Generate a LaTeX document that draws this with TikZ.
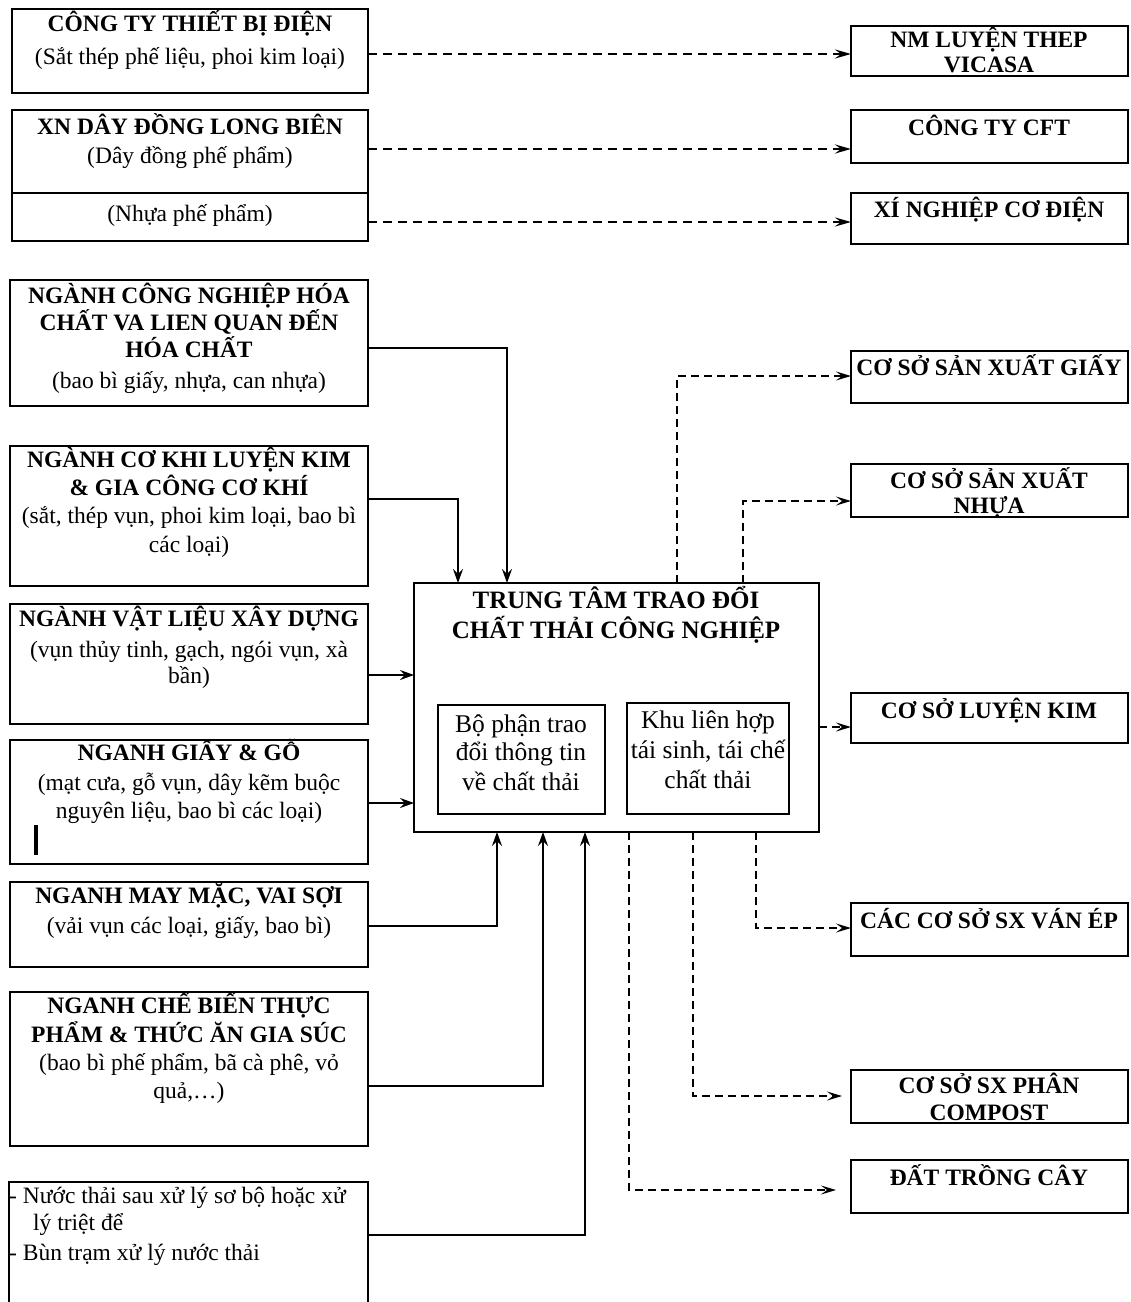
\documentclass[tikz,border=0pt]{standalone}
\usepackage{fontspec}
\setmainfont{Liberation Serif}
\usetikzlibrary{arrows.meta}
\newcommand\mybox[6][]{\node[boxst,#1,minimum width={#5-#3},minimum height={#6-#4}] (#2) at ({(#3+#5)/2},{(#4+#6)/2}) {};}
\tikzset{
  boxst/.style={draw=black, line width=1.6pt, rectangle, inner sep=0pt, outer sep=0pt},
  tb/.style={font=\bfseries\fontsize{23.5}{28}\selectfont, anchor=base, inner sep=0pt},
  tr/.style={font=\fontsize{23.5}{28}\selectfont, anchor=base, inner sep=0pt},
  tbc/.style={font=\bfseries\fontsize{25}{30}\selectfont, anchor=base, inner sep=0pt},
  tin/.style={font=\fontsize{25.5}{30}\selectfont, anchor=base, inner sep=0pt},
  solidarr/.style={line width=1.6pt, -{Stealth[length=14pt,width=10pt,inset=5pt]}},
  thickdash/.style={line width=2.4pt, dash pattern=on 9pt off 6pt, -{Stealth[length=16pt,width=9pt,inset=6pt]}},
  thindash/.style={line width=1.6pt, dash pattern=on 8pt off 5pt, -{Stealth[length=15pt,width=9pt,inset=6pt]}}
}
\begin{document}
\begin{tikzpicture}[x=1pt,y=-1pt]
\useasboundingbox[fill=white] (0,0) rectangle (1131,1302);

% ---------- left boxes ----------
\mybox{b1}{12}{9}{368}{93}
\node[tb] (t1a) at (190,31) {CÔNG TY THIẾT BỊ ĐIỆN};
\node[tr] (t1b) at (190,64) {(Sắt thép phế liệu, phoi kim loại)};

\mybox{b2a}{12}{110}{368}{193}
\mybox{b2b}{12}{193}{368}{241}
\node[tb] (t2a) at (190,134) {XN DÂY ĐỒNG LONG BIÊN};
\node[tr] (t2b) at (190,163) {(Dây đồng phế phẩm)};
\node[tr] (t2c) at (190,221) {(Nhựa phế phẩm)};

\mybox{b3}{10}{280}{368}{406}
\node[tb] (t3a) at (189,303) {NGÀNH CÔNG NGHIỆP HÓA};
\node[tb] (t3b) at (189,330) {CHẤT VA LIEN QUAN ĐẾN};
\node[tb] (t3c) at (189,357) {HÓA CHẤT};
\node[tr] (t3d) at (189,388) {(bao bì giấy, nhựa, can nhựa)};

\mybox{b4}{10}{446}{368}{586}
\node[tb] (t4a) at (189,467) {NGÀNH CƠ KHI LUYỆN KIM};
\node[tb] (t4b) at (189,495) {\& GIA CÔNG CƠ KHÍ};
\node[tr] (t4c) at (189,523) {(sắt, thép vụn, phoi kim loại, bao bì};
\node[tr] (t4d) at (189,552) {các loại)};

\mybox{b5}{10}{604}{368}{724}
\node[tb] (t5a) at (189,626) {NGÀNH VẬT LIỆU XÂY DỰNG};
\node[tr] (t5b) at (189,657) {(vụn thủy tinh, gạch, ngói vụn, xà};
\node[tr] (t5c) at (189,683) {bần)};

\mybox{b6}{10}{740}{368}{864}
\node[tb] (t6a) at (189,760) {NGANH GIẤY \& GỖ};
\node[tr] (t6b) at (189,790) {(mạt cưa, gỗ vụn, dây kẽm buộc};
\node[tr] (t6c) at (189,818) {nguyên liệu, bao bì các loại)};
\draw[line width=3.5pt] (36,825) -- (36,855);

\mybox{b7}{10}{882}{368}{967}
\node[tb] (t7a) at (189,903) {NGANH MAY MẶC, VAI SỢI};
\node[tr] (t7b) at (189,933) {(vải vụn các loại, giấy, bao bì)};

\mybox{b8}{10}{992}{368}{1146}
\node[tb] (t8a) at (189,1013) {NGANH CHẾ BIẾN THỰC};
\node[tb] (t8b) at (189,1042) {PHẨM \& THỨC ĂN GIA SÚC};
\node[tr] (t8c) at (189,1070) {(bao bì phế phẩm, bã cà phê, vỏ};
\node[tr] (t8d) at (189,1098) {quả,…)};

\mybox{b9}{9}{1182}{368}{1330}
\node[tr,anchor=base west] (t9a) at (9,1203) {- Nước thải sau xử lý sơ bộ hoặc xử};
\node[tr,anchor=base west] (t9b) at (33,1230) {lý triệt để};
\node[tr,anchor=base west] (t9c) at (9,1260) {- Bùn trạm xử lý nước thải};

% ---------- centre ----------
\mybox{c}{414}{583}{819}{832}
\node[tbc] (tca) at (616,608) {TRUNG TÂM TRAO ĐỔI};
\node[tbc] (tcb) at (616,638) {CHẤT THẢI CÔNG NGHIỆP};
\mybox{i1}{438}{705}{605}{814}
\node[tin] (ti1a) at (521,732) {Bộ phận trao};
\node[tin] (ti1b) at (521,760) {đổi thông tin};
\node[tin] (ti1c) at (521,790) {về chất thải};
\mybox{i2}{627}{703}{789}{814}
\node[tin] (ti2a) at (708,728) {Khu liên hợp};
\node[tin] (ti2b) at (708,758) {tái sinh, tái chế};
\node[tin] (ti2c) at (708,788) {chất thải};

% ---------- right boxes ----------
\mybox{r1}{851}{26}{1128}{76}
\node[tb] (tr1a) at (989,47) {NM LUYỆN THEP};
\node[tb] (tr1b) at (989,72) {VICASA};
\mybox{r2}{851}{110}{1128}{163}
\node[tb] (tr2) at (989,135) {CÔNG TY CFT};
\mybox{r3}{851}{193}{1128}{244}
\node[tb] (tr3) at (989,217) {XÍ NGHIỆP CƠ ĐIỆN};
\mybox{r4}{851}{351}{1128}{403}
\node[tb] (tr4) at (989,375) {CƠ SỞ SẢN XUẤT GIẤY};
\mybox{r5}{851}{464}{1128}{517}
\node[tb] (tr5a) at (989,488) {CƠ SỞ SẢN XUẤT};
\node[tb] (tr5b) at (989,513) {NHỰA};
\mybox{r6}{851}{693}{1128}{743}
\node[tb] (tr6) at (989,718) {CƠ SỞ LUYỆN KIM};
\mybox{r7}{851}{903}{1128}{956}
\node[tb] (tr7) at (989,928) {CÁC CƠ SỞ SX VÁN ÉP};
\mybox{r8}{851}{1070}{1128}{1123}
\node[tb] (tr8a) at (989,1093) {CƠ SỞ SX PHÂN};
\node[tb] (tr8b) at (989,1120) {COMPOST};
\mybox{r9}{851}{1160}{1128}{1213}
\node[tb] (tr9) at (989,1185) {ĐẤT TRỒNG CÂY};

\coordinate (e8) at (842,1096);
\coordinate (e9) at (836,1190);

% ---------- connectors ----------
\draw[thickdash] (b1.east |- 0,54) -- (r1.west |- 0,54);
\draw[thickdash] (b2a.east |- 0,149) -- (r2.west |- 0,149);
\draw[thickdash] (b2b.east |- 0,222) -- (r3.west |- 0,222);

\draw[solidarr] (b3.east |- 0,348) -- (507,348) -- (c.north -| 507,0);
\draw[solidarr] (b4.east |- 0,499) -- (458,499) -- (c.north -| 458,0);
\draw[solidarr] (b5.east |- 0,675) -- (c.west |- 0,675);
\draw[solidarr] (b6.east |- 0,803) -- (c.west |- 0,803);
\draw[solidarr] (b7.east |- 0,926) -- (497,926) -- (c.south -| 497,0);
\draw[solidarr] (b8.east |- 0,1086) -- (543,1086) -- (c.south -| 543,0);
\draw[solidarr] (b9.east |- 0,1235) -- (585,1235) -- (c.south -| 585,0);

\draw[thindash] (c.north -| 677,0) -- (677,376) -- (r4.west |- 0,376);
\draw[thindash] (c.north -| 743,0) -- (743,501) -- (r5.west |- 0,501);
\draw[thindash] (c.east |- 0,727) -- (r6.west |- 0,727);
\draw[thindash] (c.south -| 756,0) -- (756,928) -- (r7.west |- 0,928);
\draw[thindash] (c.south -| 693,0) -- (693,1096) -- (e8);
\draw[thindash] (c.south -| 629,0) -- (629,1190) -- (e9);
\end{tikzpicture}
\end{document}
